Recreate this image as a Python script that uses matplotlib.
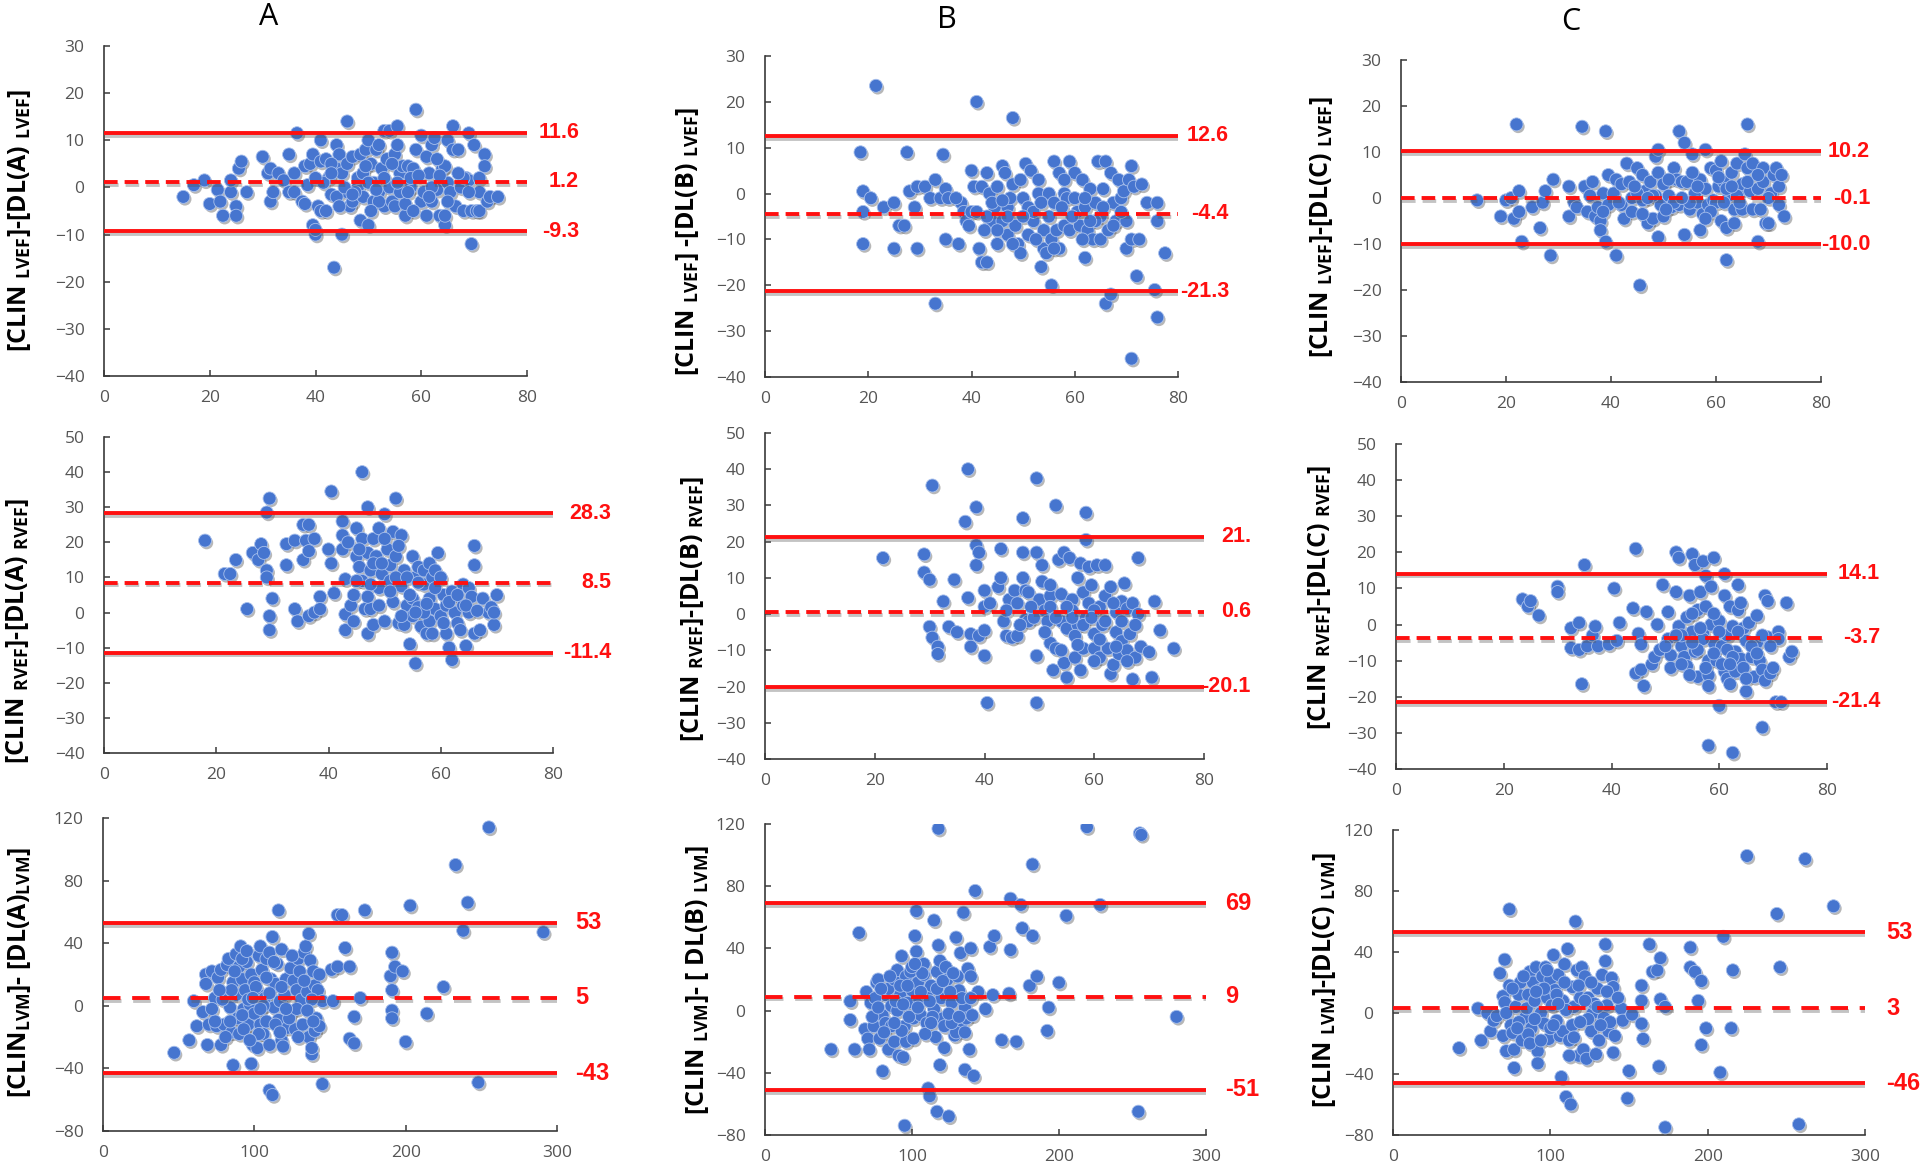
import numpy as np
import matplotlib
matplotlib.use('Agg')
import matplotlib.pyplot as plt
import matplotlib.patheffects as pe

plt.rcParams.update({
    'font.family': ['Open Sans', 'DejaVu Sans'],
    'mathtext.fontset': 'custom',
    'mathtext.rm': 'Open Sans:bold',
    'mathtext.it': 'Open Sans:bold',
    'mathtext.bf': 'Open Sans:bold',
})

# ---- datos: (media, diferencia) ----
lvef_a = [(15, -2), (17, 0.5), (19, 1.5), (20, -3.5), (21.5, -0.5), (22, -3), (22.5, -6), (24, -1),
          (24, 1.5), (25, -4), (25, -6), (25.5, 4), (26, 5.5), (27, -1), (30, 6.5), (31, 3), (31.5, 4),
          (31.5, -3), (32, -1), (33, 3), (34, 1.5), (35, 7), (35, -1), (36.5, 11.5), (36, -1), (37.5, -3),
          (38, -3.5), (38, 4.5), (38.5, 0.5), (39, 5), (39.5, 7), (39.5, -8), (40, -10), (40, -9),
          (40.5, -4), (41, 10), (41, -5), (41, 5.5), (42, 6), (42, -5), (42.5, 2), (43, -1.5), (43.5, -17),
          (44, 4), (44, 9), (44.5, 7), (45, 3), (45, -10), (46, 14), (46, -1), (46, 5), (46.5, -4),
          (47, 6.5), (47, -3), (48, 0), (48, 2), (48.5, 7), (48.5, -7), (49, 3), (49, -2), (49.5, 8),
          (50, 10), (50, -8), (50.5, 5), (51, -3), (51, 1), (51.5, 8), (52, 9), (52, -1), (52.5, 4),
          (53, 12), (53, -4), (53.5, 6), (54, 12), (54, 0), (54.5, -3), (55, 7), (55, -4), (55.5, 13),
          (55.5, 9), (56, 3), (56.5, 4.5), (57, -6), (57, -3.5), (57.5, 4.5), (58, 0), (58.5, 4),
          (59, 16.5), (59, 8), (60, 11), (60, -3), (60.5, -1), (61, 6.5), (61, -6), (61.5, 3), (62, 9),
          (62, -3), (62.5, 10.5), (63, -0.5), (63.5, -6), (64, 4), (64.5, -8), (64.5, -6), (64.5, 4.5),
          (65, 10), (65, 1), (65.5, -1), (66, 13), (66, 8), (66.5, -4), (67, 8), (67.5, 0), (68, -5),
          (68.5, 2), (69, 11.5), (69, 1.5), (69.5, -12), (69.5, -5), (70, 9), (70.5, -5), (71, -1),
          (71, -5), (72, 7), (72, 4.5), (72.5, -3), (73, -2), (74.5, -2), (68, 2), (62, 0), (58, 2),
          (56, -1), (54.5, 5), (52, -3), (50, 1), (47.5, -1), (44, -2), (43, 5),
          (41.5, 1), (43, 3), (45.5, 0), (47, -1.5), (49.5, 4.5), (51.5, -0.5), (53, 2), (55.5, 1),
          (57.5, -1), (59.5, 2.5), (61.5, -2), (63, 6), (65, -3), (67, 3), (69, -1), (71, 2), (40, 2),
          (36, 3), (44.5, -4), (50.5, -5), (58.5, -5), (63.5, 2.5)]

lvef_b = [(21.5, 23.5), (41, 20), (48, 16.5), (18.5, 9), (27.5, 9), (34.5, 8.5), (19, 0.5), (20.5, -1),
          (19, -4), (23, -3), (25, -2), (26, -7), (27, -7), (28, 0.5), (29, -3), (29.5, 1.5), (31, 1.5),
          (32, -1), (33, 3), (34, -1), (35, 1), (35.5, -1), (19, -11), (25, -12), (29.5, -12), (35, -10),
          (37.5, -11), (38, -2), (38.5, -4), (39, -6), (39.5, -7), (40, 5), (40, -4), (40.5, 1.5),
          (41.5, -12), (42, 1.5), (42, -15), (43, -15), (43, 4.5), (43.5, 0), (44, -6), (44.5, -3),
          (45, -11), (45, 1.5), (46, -6), (46, 6), (46.5, 4.5), (47, -9), (47, -3), (48, 2), (48.5, -7),
          (49, -11), (49.5, 3), (49.5, -13), (50, -1), (50.5, 6.5), (51, -9), (51, -3), (51.5, 5),
          (52, -6), (53, 0), (53, 3), (53.5, -16), (54, -8), (54, -12), (54.5, -13), (55, 0), (55.5, -10),
          (55.5, -20), (56, 7), (56, -2), (56.5, -8), (57, -12), (57, 4.5), (58, 0), (58, -7), (58.5, -1),
          (59, 7), (59, -8), (60, 4.5), (60.5, -4), (61, -7), (61.5, 3), (62, -14), (62, -3), (62.5, -8),
          (63, 1), (63.5, -10), (64, -2), (64.5, 7), (65, -5), (65, -10), (65.5, 1), (66, 7), (66, -24),
          (66.5, -8), (67, -22), (67, 4.5), (67.5, -2), (68, -6), (68.5, 3), (69, -1), (69.5, 0.5),
          (70, -6), (70, -12), (70.5, 3), (71, 6), (71, -10), (71.5, 1.5), (72, -18), (72.5, -10), (73, 2),
          (74, -2), (76, -2), (76, -6), (75.5, -21), (76, -27), (77.5, -13), (71, -36), (33, -24),
          (44, -2), (47, -5), (52, -4), (60, -1), (64, -6), (37, -1), (41, -4),
          (43, -5), (45, -8), (47.5, -1), (50, -5), (52.5, -10), (55, -5), (57.5, -3), (59.5, -5),
          (61.5, -10), (63, -6), (65.5, -3), (67.5, -7), (69, -4), (48, -11), (56, -12), (62, -1),
          (46, -1.5), (42.5, -8), (53.5, -2), (58, 3)]

lvef_c = [(14.5, -0.5), (19, -4), (20, -0.5), (21, 0), (21.5, -4.5), (22, 16), (22.5, 1.5), (22.5, -3),
          (23, -9.5), (25, -2), (26.5, -6.5), (27, -1), (27.5, 1.5), (28.5, -12.5), (29, 4), (32, 2.5),
          (32, -4), (33, -1), (33.5, -2), (34.5, 15.5), (35, 2.5), (35.5, -3), (36, 0.5), (36.5, 3.5),
          (37, -4), (37.5, -2), (38, -5), (38, -7), (38.5, 1), (39, 14.5), (39, -9.5), (39.5, 5),
          (39.5, -1.5), (40.5, 1), (41, 4), (41, -12.5), (42, 3), (42, -1.5), (42.5, -4.5), (43, 7.5),
          (43.5, 3.5), (44, 0), (44, -3), (45, 6.5), (45.5, -19), (46, 5), (46, -0.5), (46.5, 1.5),
          (47, -5.5), (47.5, 3.5), (48, -4.5), (48.5, 9), (48.5, 0.5), (49, 10.5), (49, 5.5), (49, -8.5),
          (49.5, -1.5), (50, 3), (50, -4), (51, 0.5), (51.5, -2), (52, 6.5), (52.5, 4), (53, 14.5),
          (53, -1.5), (53.5, 3.5), (54, 12), (54, -8), (54.5, 3.5), (55, -2.5), (55.5, 9.5), (56, 1),
          (56.5, -1), (57, 4), (57, -7), (57.5, -3.5), (58, 10.5), (58, 2), (58.5, -1.5), (59, 6.5),
          (59.5, -0.5), (60, 6), (60.5, 2.5), (61, 8), (61, -5), (61.5, 3.5), (62, -13.5), (62, -6.5),
          (62.5, 0.5), (63, 5.5), (63.5, -2.5), (63.5, -5.5), (64, 7.5), (64.5, 1.5), (65, 3), (65, -2.5),
          (65.5, 9.5), (66, 16), (66, 6.5), (66.5, 1.5), (67, 7.5), (67, -2.5), (68, -9.5), (68, 2),
          (68.5, -2.5), (69, 3.5), (69, 6.5), (69.5, -5.5), (70, -5.5), (70.5, 1), (71, 5), (71.5, 6.5),
          (72, 2.5), (72, -1.5), (72.5, 5), (73, -4), (55, -1), (48, 0.5), (45, 1), (60, -1), (64, 0.5),
          (52, -1),
          (44.5, 2.5), (47, 0), (50.5, -2.5), (53.5, 0), (56.5, 2.5), (59, -3), (62, 2), (64.5, -1),
          (66, 3.5), (68, 5), (70, 0), (46, -3.5), (51, 4), (55.5, 5.5), (58, -4.5), (61.5, -1),
          (63, 2.5), (41.5, -1), (38.5, -3), (60.5, 4.5)]

rvef_a = [(18, 20.5), (21.5, 11), (22.5, 11), (23.5, 15), (25.5, 1), (26.5, 17), (27.5, 15), (28, 19.5),
          (28.5, 17), (29, 28.5), (29, 12), (29, 10), (29.5, 32.5), (29.5, -1), (29.5, -5), (30, 4),
          (32.5, 19.5), (32.5, 13.5), (34, 20.5), (34, 1), (34.5, -2.5), (35.5, 25), (35.5, 15), (36, 20.5),
          (36.5, 25), (36.5, 17.5), (36.5, -1), (37.5, 21), (37.5, 0), (38.5, 4.5), (38.5, 1), (40, 18),
          (40.5, 34.5), (40.5, 14), (41, 5.5), (42.5, 26), (42.5, 22), (42.5, 18), (43, 9.5), (43, -0.5),
          (43, -5), (43.5, 20), (44, 2), (44.5, 5), (44.5, -2.5), (45, 24), (45, 16), (45.5, 13), (46, 40),
          (46, 21), (46, 9), (46.5, 1), (47, 30), (47, -6), (47, 17), (47.5, 1), (47.5, 12), (48, 21),
          (48, -3.5), (48.5, 16), (49, 24), (49, 2), (49, 7), (49.5, 11), (50, 28), (50, -2.5), (50.5, 18),
          (51, 13.5), (51, 9), (51.5, 23), (51.5, 3), (52, 32.5), (52, 16), (52.5, -3), (53, 22), (53, 7.5),
          (53.5, 12), (53.5, -3.5), (54, 2), (54.5, -9), (55, 16), (55, 4), (55, -1), (55.5, -14.5),
          (55.5, 10), (56, 13), (56, 1.5), (56.5, -4), (57, 8), (57, 12), (57.5, -6), (58, 14), (58, 4),
          (58, -2.5), (58.5, 10), (59, 1), (59, 12), (59.5, 17), (60, 10), (60, -1), (60.5, 5), (61, 2),
          (61, -6), (61.5, -10), (62, -13.5), (62, 6), (62.5, 0), (63, -3), (63.5, -5), (64, 8), (64, 2),
          (64.5, -9.5), (65, 0), (65, 7), (65.5, 4.5), (66, 19), (66, 13.5), (66, -6), (67, -5), (67.5, 4),
          (68.5, 0), (69, 1.5), (69.5, -3.5), (69.5, 0), (70, 5), (57, 0), (52, 10), (48, 14), (45, 9),
          (45.5, 18), (47.5, 8), (49.5, 14), (51, 6), (52.5, 19), (54, 10), (54.5, 5), (56, 8.5),
          (57.5, 2.5), (59, 7), (60.5, -3), (61.5, 3), (63, 5), (64.5, 2), (66.5, 0.5), (53, -1),
          (50, 21), (55.5, 0), (58.5, -6), (47, 4.5)]

rvef_b = [(21.5, 15.5), (29, 16.5), (29, 11.5), (30, 9.5), (30, -3.5), (30.5, 35.5), (30.5, -6.5),
          (31.5, -9), (31.5, -11), (32.5, 3.5), (33.5, -3.5), (34.5, 9.5), (35, -5), (36.5, 25.5), (37, 40),
          (37, 4.5), (37.5, -5.5), (37.5, -9), (38.5, 29.5), (38.5, 19), (38.5, 13.5), (39, 17), (39, -6),
          (40, 6.5), (40, -4.5), (40, -11.5), (40.5, -24.5), (40, 2), (41, 3), (42.5, 7.5), (43, 18),
          (43, 10), (43.5, -2), (44, -6), (44.5, 4), (45, -6.5), (45.5, 6.5), (46, -6), (46, 3), (47, 17),
          (47, 26.5), (47, 10), (47.5, 6.5), (47.5, -1.5), (48, -2), (49, -1), (49.5, 37.5), (49.5, 17),
          (49.5, -11.5), (49.5, -24.5), (50, 4), (50.5, 13.5), (50.5, 9), (51, 1), (51.5, -2), (52, 5),
          (52, -8), (52.5, -15.5), (53, -9.5), (53, 30), (53.5, 15), (54, -2), (54, 5.5), (54.5, 17),
          (54.5, -13.5), (55, -17.5), (55, -4), (55.5, 15.5), (56, 4), (56, 1), (56.5, -12), (57, 10),
          (57, -3), (57.5, 14), (57.5, -15.5), (58, -9.5), (58, 6), (58.5, 28), (58.5, 20.5), (58.5, -1),
          (59, 13), (59, 3), (59.5, 8), (60, -5.5), (60, -9.5), (60.5, 13.5), (61, 2), (61, -12), (61.5, -3),
          (62, 13.5), (62, 5), (62.5, -9.5), (63, 7.5), (63, -16.5), (63.5, -14), (64, 0.5), (64, -5),
          (64.5, -11), (65, 3.5), (65, -7.5), (65.5, 8.5), (66, -10), (66, 1.5), (66.5, -5.5), (67, -18),
          (67, 3), (67.5, -12), (68, 15.5), (68, 0), (68.5, -9), (70, -10.5), (70.5, -17.5), (71, 3.5),
          (72, -4.5), (74.5, -9.5), (56, -1), (60, 1), (52, 2), (48, 6),
          (44, 1), (46.5, -3), (48.5, 2), (51, -5), (53, -1), (55, 2), (56.5, -6), (58, -3), (59.5, -1),
          (61, -7), (62, -2), (63.5, 3), (65, -2), (66, -13), (64, -9), (60, -13), (57, -8.5), (54, -10),
          (52, 8), (67.5, -3)]

rvef_c = [(23.5, 7), (24.5, 5), (25, 6.5), (26.5, 2.5), (30, 10.5), (30, 9), (32.5, -1), (32.5, -6.5),
          (34, 0.5), (34, -7), (34.5, -16.5), (35, 16.5), (35.5, -6), (36.5, -3), (37, -0.5), (37.5, -6),
          (39.5, -5.5), (40.5, 10), (41, -4.5), (41.5, 0.5), (44, 4.5), (44.5, 21), (44.5, -13.5),
          (45, -2.5), (45.5, -12.5), (45.5, -5.5), (46, -17), (46.5, 3.5), (47.5, -11), (48, -9), (48.5, 0),
          (49, -7), (49.5, 11), (50.5, 3.5), (50.5, -4), (51, -8.5), (51, -12), (52, 20), (52, 9),
          (52.5, 18.5), (52.5, -0.5), (53, -6), (53.5, -9), (54, 2), (54, -11.5), (54.5, 8), (55, 19.5),
          (55, -2), (55.5, 16.5), (55.5, -7.5), (56, 4), (56, -14.5), (56.5, 9), (57, 17.5), (57, -2.5),
          (57.5, 13.5), (57.5, 5), (58, -10), (58, -33.5), (58, -14), (58.5, 10.5), (58.5, 0), (59, 18.5),
          (59, -5), (59.5, -10), (60, 1), (60, -22.5), (60.5, -6), (61, 14), (61, 8), (61, -13), (61.5, -3),
          (61.5, -15), (62, 5), (62, -16.5), (62.5, -35.5), (62.5, -0.5), (63, -7.5), (63, -13), (63.5, 11),
          (63.5, 4), (64, 6), (64, -9.5), (64.5, -1), (65, -18.5), (65, -4.5), (65.5, 0.5), (66, -9),
          (66.5, -14.5), (67, 2.5), (67, -5), (67.5, -10), (68, -28.5), (68, -12.5), (68.5, 8), (68.5, -15.5),
          (69, 6.5), (69, -3.5), (69.5, -13.5), (70.5, -21.5), (71, -2), (71, -4), (71.5, -21.5), (72.5, 6),
          (73, -9), (73.5, -7.5), (57, -4), (53, -3), (60, -2), (56, -7),
          (50, -6), (52, -3), (53, -11), (55, -5), (56.5, -1), (57.5, -12), (59, -8), (60.5, -11),
          (61.5, -7), (62.5, -9), (63.5, -2), (64.5, -12), (66, -6), (67, -8), (68, -3), (69.5, -6),
          (54.5, -14), (58, -17), (62, -11), (65, -15), (70, -12), (55, 3), (59, 3)]

lvm_a = [(47, -30), (57, -22), (60, 3), (62, -13), (66, -4), (68, 20), (68, 14), (69, -25), (70, -12),
         (72, 22), (74, 5), (75, -13), (76, 18), (78, 23), (78, -25), (80, -12), (82, 26), (82, 8), (83, 30),
         (84, -1), (85, -17), (86, -38), (86, 15), (88, 33), (88, 7), (89, -8), (90, 25), (90, -18), (91, 38),
         (92, 17), (93, -2), (94, 10), (95, 28), (96, -12), (97, 1), (98, -37), (98, 20), (99, -25), (100, 15),
         (100, -5), (102, 8), (102, -27), (103, 32), (104, 38), (104, -12), (105, 23), (106, -18), (107, 5),
         (108, 30), (108, -10), (110, 34), (110, -54), (111, 17), (112, 44), (112, -57), (113, -1), (114, 14),
         (115, 27), (116, 61), (116, -9), (117, 3), (118, 36), (118, -22), (119, -26), (120, 7), (121, 17),
         (122, -14), (124, -4), (124, 24), (126, 16), (127, -15), (128, 10), (129, 30), (130, 22), (131, 4),
         (132, -12), (133, 34), (134, 38), (135, 9), (136, -20), (136, 46), (137, 29), (138, -31), (138, -27),
         (139, 22), (140, 13), (140, -16), (141, -8), (142, 10), (143, -13), (145, -50), (145, 3), (151, 23),
         (152, 3), (155, 58), (155, 25), (158, 58), (160, 37), (163, 25), (163, -21), (166, -24), (166, -7),
         (170, 5), (173, 61), (190, 19), (191, 34), (191, 10), (191, -3), (191, -8), (193, 25), (198, 22),
         (200, -23), (203, 64), (214, -5), (225, 12), (233, 90), (238, 48), (241, 66), (248, -49),
         (255, 114), (291, 47), (74, -10), (79, 4), (85, 10), (92, -6), (96, 4), (101, 12), (106, 0),
         (110, 8), (114, -12), (118, 12), (123, -8), (128, -2), (133, 16), (138, 4), (92, 30), (104, -2),
         (72, -2), (77, 10), (81, -20), (87, 22), (93, -15), (95, 35), (99, 5), (103, -18), (108, 18),
         (113, 28), (117, -17), (121, -2), (125, 32), (129, -20), (135, -3), (139, -10), (143, 20),
         (84, -10), (97, -22), (110, -25)]

lvm_b = [(45, -25), (58, 6), (58, -6), (61, -25), (64, 50), (68, -12), (69, 12), (70, -18), (71, -25),
         (72, 5), (74, -10), (76, 18), (77, 20), (78, -18), (80, -3), (80, -39), (82, 10), (82, -8), (84, 14),
         (84, -25), (86, 3), (88, 20), (88, -20), (90, 26), (90, 0), (91, -29), (92, 10), (93, 35), (94, -30),
         (95, -74), (95, -10), (96, 22), (96, -20), (97, 5), (99, 25), (100, 13), (101, -5), (101, -18),
         (102, 48), (103, 64), (103, 38), (104, 18), (105, 7), (106, -3), (108, 23), (108, 30), (110, 10),
         (110, -8), (111, -50), (112, -55), (113, 16), (115, 58), (115, 1), (116, -17), (117, -65), (117, 25),
         (118, 117), (118, 42), (119, 32), (119, -35), (120, 8), (121, -5), (122, -24), (122, -10), (123, 28),
         (124, 20), (125, -68), (127, 5), (129, -16), (130, 47), (131, 22), (132, 13), (133, 37), (134, -12),
         (135, 63), (136, 2), (136, -38), (137, -5), (138, 27), (139, -25), (140, 40), (140, 22), (141, -3),
         (142, -42), (143, 77), (145, 12), (150, 1), (153, 41), (155, 10), (156, 48), (161, -19), (166, 11),
         (167, 39), (167, 72), (171, -20), (174, 68), (175, 53), (180, 16), (182, 48), (182, 94), (185, 22),
         (192, -13), (193, 2), (200, 18), (205, 61), (219, 118), (228, 68), (254, -65), (255, 114),
         (256, 113), (280, -4), (75, 8), (79, 14), (86, -10), (92, 16), (98, -4), (104, 2), (107, 24),
         (112, 6), (114, -4), (126, 12), (130, -14), (134, 8), (127, -8), (100, 28),
         (73, -4), (77, 2), (81, -14), (85, 22), (89, 6), (93, -13), (97, 16), (102, 30), (106, 12),
         (109, -15), (113, -8), (117, 14), (121, 19), (125, -2), (128, 24), (132, -4), (136, -14),
         (140, 8), (94, 4), (88, -8)]

lvm_c = [(42, -23), (54, 3), (56, -18), (60, 0), (62, -12), (64, -5), (66, -2), (68, 26), (70, 11),
         (70, -15), (71, 35), (71, 7), (72, -25), (74, 68), (74, 18), (75, -8), (76, -13), (77, -36),
         (77, -24), (78, 4), (80, 12), (81, 20), (82, -18), (84, -3), (85, 3), (86, 12), (87, 27), (88, -10),
         (89, 20), (90, 8), (91, 30), (92, -25), (92, -33), (93, 15), (94, 0), (95, 24), (96, -7), (97, 30),
         (98, 10), (99, -17), (100, 22), (101, 5), (102, 38), (103, 15), (104, -5), (105, 25), (106, -15),
         (107, -42), (108, 8), (108, -12), (109, 32), (110, -55), (111, 42), (112, -18), (113, -60), (114, 17),
         (115, 4), (116, 60), (117, 28), (118, -28), (119, 10), (120, 30), (121, -24), (122, 24), (123, -30),
         (124, 10), (126, -12), (127, 0), (128, 6), (129, -27), (130, 16), (131, -18), (133, 25), (134, -3),
         (135, 45), (135, 34), (136, 5), (137, -12), (139, 23), (140, -26), (140, 17), (145, 3), (146, -5),
         (150, -38), (149, -56), (152, -1), (158, 18), (158, 8), (158, -7), (159, -17), (163, 45), (165, 27),
         (168, 28), (169, -35), (170, 36), (170, 9), (173, 4), (173, -75), (189, 43), (189, 30), (192, 27),
         (194, 8), (196, 21), (196, -21), (199, -10), (208, -39), (210, 50), (215, -10), (216, 28),
         (225, 103), (244, 65), (246, 30), (258, -73), (262, 101), (280, 70), (80, -6), (86, -14), (90, -4),
         (96, 16), (100, -10), (104, 12), (110, 2), (114, -8), (118, 18), (124, -4), (130, 4), (138, -6),
         (72, 0), (76, 16), (79, -10), (83, 24), (87, -20), (91, 14), (94, -18), (98, 28), (102, -8),
         (105, 6), (109, 20), (112, -28), (115, -16), (119, -6), (122, 8), (126, 20), (132, -8), (136, 14),
         (141, -15), (143, 10)]

# limites de acuerdo (superior, media, inferior) y sus etiquetas
loa_lvef_a, txt_lvef_a = [11.6, 1.2, -9.3], ['11.6', '1.2', '-9.3']
loa_lvef_b, txt_lvef_b = [12.6, -4.4, -21.3], ['12.6', '-4.4', '-21.3']
loa_lvef_c, txt_lvef_c = [10.2, -0.1, -10.0], ['10.2', '-0.1', '-10.0']
loa_rvef_a, txt_rvef_a = [28.3, 8.5, -11.4], ['28.3', '8.5', '-11.4']
loa_rvef_b, txt_rvef_b = [21.3, 0.6, -20.1], ['21.', '0.6', '-20.1']
loa_rvef_c, txt_rvef_c = [14.1, -3.7, -21.4], ['14.1', '-3.7', '-21.4']
loa_lvm_a, txt_lvm_a = [53, 5, -43], ['53', '5', '-43']
loa_lvm_b, txt_lvm_b = [69, 9, -51], ['69', '9', '-51']
loa_lvm_c, txt_lvm_c = [53, 3, -46], ['53', '3', '-46']

columnas = ['A', 'B', 'C']

S_L = r'${}_{\mathrm{LVEF}}$'
S_R = r'${}_{\mathrm{RVEF}}$'
S_M = r'${}_{\mathrm{LVM}}$'

W, H = 1920, 1168
ROJO = '#ff1010'
AZUL = '#4675cf'

# (datos, loa, textos, caja px [izq, der, arriba, abajo], ylim, paso y, xmax, etiqueta y, pos etiqueta px, estilo etiqueta)
paneles = [
    (lvef_a, loa_lvef_a, txt_lvef_a, (104, 527, 46, 376), (-40, 30), 10, 80,
     '[CLIN ' + S_L + ']-[DL(A) ' + S_L + ']', (20, 220), ('r', 52)),
    (lvef_b, loa_lvef_b, txt_lvef_b, (765, 1178, 56, 377), (-40, 30), 10, 80,
     '[CLIN ' + S_L + '] -[DL(B) ' + S_L + ']', (688, 241), ('r', 51)),
    (lvef_c, loa_lvef_c, txt_lvef_c, (1401, 1821, 60, 382), (-40, 30), 10, 80,
     '[CLIN ' + S_L + ']-[DL(C) ' + S_L + ']', (1322, 227), ('r', 49)),
    (rvef_a, loa_rvef_a, txt_rvef_a, (104, 553, 437, 753), (-40, 50), 10, 80,
     '[CLIN ' + S_R + ']-[DL(A) ' + S_R + ']', (18, 631), ('r', 58)),
    (rvef_b, loa_rvef_b, txt_rvef_b, (765, 1204, 433, 759), (-40, 50), 10, 80,
     '[CLIN ' + S_R + ']-[DL(B) ' + S_R + ']', (693, 609), ('r', 47)),
    (rvef_c, loa_rvef_c, txt_rvef_c, (1396, 1827, 444, 769), (-40, 50), 10, 80,
     '[CLIN ' + S_R + ']-[DL(C) ' + S_R + ']', (1320, 597), ('r', 53)),
    (lvm_a, loa_lvm_a, txt_lvm_a, (103, 557, 818, 1131), (-80, 120), 40, 300,
     '[CLIN' + S_M + ']- [DL(A)' + S_M + ']', (20, 973), ('l', 18)),
    (lvm_b, loa_lvm_b, txt_lvm_b, (765, 1206, 824, 1135), (-80, 120), 40, 300,
     '[CLIN ' + S_M + ']- [ DL(B) ' + S_M + ']', (698, 980), ('l', 19)),
    (lvm_c, loa_lvm_c, txt_lvm_c, (1393, 1865, 830, 1135), (-80, 120), 40, 300,
     '[CLIN ' + S_M + ']-[DL(C) ' + S_M + ']', (1325, 980), ('l', 21)),
]

fig = plt.figure(figsize=(W / 100, H / 100), dpi=100)
fig.patch.set_facecolor('white')

sombra_linea = [pe.SimpleLineShadow(offset=(0.5, -2.0), shadow_color='#555555', alpha=0.35), pe.Normal()]
sombra_punto = [pe.SimplePatchShadow(offset=(1.2, -1.6), shadow_rgbFace='#333333', alpha=0.35), pe.Normal()]

for datos, loa, textos, caja, ylim, paso, xmax, ylab, ypos, est in paneles:
    l, r, t, b = caja
    ax = fig.add_axes([l / W, 1 - b / H, (r - l) / W, (b - t) / H])
    pts = np.array(datos, dtype=float)

    ax.scatter(pts[:, 0], pts[:, 1], s=88, color=AZUL, edgecolors='#a8c0ec', linewidths=0.6,
               zorder=3, path_effects=sombra_punto)

    for i, (v, txt) in enumerate(zip(loa, textos)):
        estilo = '--' if i == 1 else '-'
        ln = ax.axhline(v, color=ROJO, lw=2.8, ls=estilo, zorder=4, path_effects=sombra_linea)
        if estilo == '--':
            ln.set_dashes((3.5, 1.8) if xmax == 80 else (4.5, 3))
        if est[0] == 'r':
            ax.annotate(txt, xy=(1, v), xycoords=('axes fraction', 'data'), xytext=(est[1], 0),
                        textcoords='offset pixels', ha='right', va='center', color=ROJO,
                        fontsize=15.5, fontweight='bold', family='Liberation Sans', annotation_clip=False)
        else:
            ax.annotate(txt, xy=(1, v), xycoords=('axes fraction', 'data'), xytext=(est[1], 0),
                        textcoords='offset pixels', ha='left', va='center', color=ROJO,
                        fontsize=17, fontweight='bold', fontstretch='condensed',
                        family=['Liberation Sans Narrow', 'Liberation Sans'], annotation_clip=False)

    ax.set_xlim(0, xmax)
    ax.set_ylim(*ylim)
    ax.set_xticks(np.arange(0, xmax + 1, 20 if xmax == 80 else 100))
    ax.set_yticks(np.arange(ylim[0], ylim[1] + 1, paso))
    for s in ['top', 'right']:
        ax.spines[s].set_visible(False)
    for s in ['left', 'bottom']:
        ax.spines[s].set_color('#3a3a3a')
        ax.spines[s].set_linewidth(1.2)
    ax.tick_params(direction='in', length=4, width=1.1, color='#3a3a3a', labelsize=12.5,
                   labelcolor='#555555')
    ax.tick_params(axis='y', pad=14)
    ax.tick_params(axis='x', pad=10)

    fig.text(ypos[0] / W, 1 - ypos[1] / H, ylab, rotation=90, ha='center', va='center',
             fontsize=18, fontweight='bold', color='black')

for letra, (px, py) in zip(columnas, [(269, 17), (947, 20), (1571, 22)]):
    fig.text(px / W, 1 - py / H, letra, ha='center', va='center', fontsize=22, color='black')

fig.savefig('out.png', dpi=100, facecolor='white')
